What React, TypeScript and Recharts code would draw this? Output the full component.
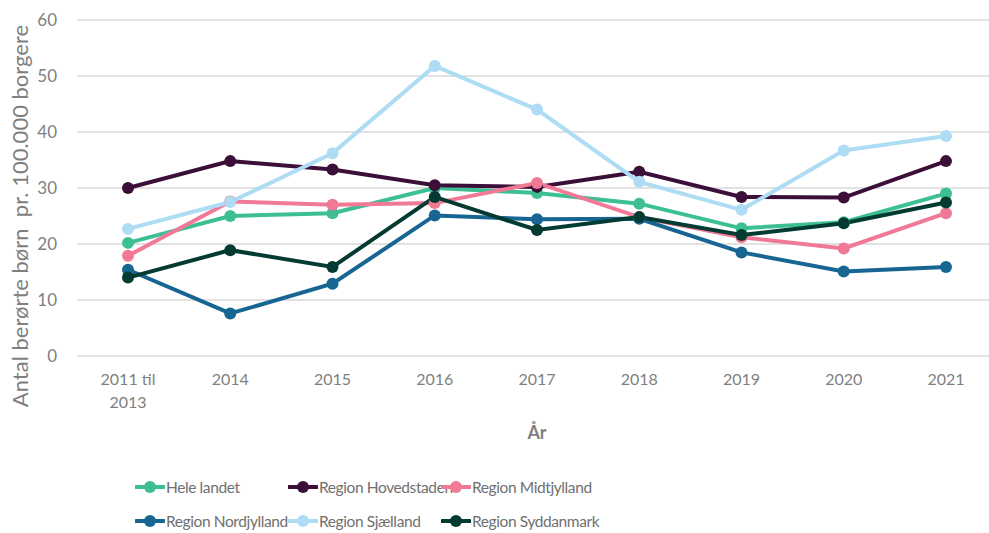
import React from "react";
import { LineChart, Line, XAxis, YAxis, CartesianGrid, Legend } from "recharts";

const YEARS = ["2011 til 2013", "2014", "2015", "2016", "2017", "2018", "2019", "2020", "2021"];

const heleLandet = [20.2, 25.0, 25.5, 30.0, 29.1, 27.2, 22.8, 23.9, 29.0];
const hovedstaden = [30.0, 34.8, 33.3, 30.5, 30.2, 32.9, 28.4, 28.3, 34.8];
const midtjylland = [17.9, 27.6, 27.0, 27.3, 30.9, 24.8, 21.2, 19.2, 25.5];
const nordjylland = [15.4, 7.6, 12.9, 25.1, 24.4, 24.5, 18.5, 15.1, 15.9];
const sjaelland = [22.7, 27.5, 36.2, 51.8, 44.0, 31.1, 26.1, 36.7, 39.3];
const syddanmark = [14.0, 18.9, 15.9, 28.4, 22.5, 24.8, 21.6, 23.7, 27.4];

const Y_TICKS = [0, 10, 20, 30, 40, 50, 60];

const SERIES = [
  { key: "hele", name: "Hele landet", color: "#3dbf94", values: heleLandet },
  { key: "hoved", name: "Region Hovedstaden", color: "#3b0f38", values: hovedstaden },
  { key: "midt", name: "Region Midtjylland", color: "#f07a95", values: midtjylland },
  { key: "nord", name: "Region Nordjylland", color: "#176592", values: nordjylland },
  { key: "sjael", name: "Region Sjælland", color: "#aedcf5", values: sjaelland },
  { key: "syd", name: "Region Syddanmark", color: "#033b32", values: syddanmark },
];

const data = YEARS.map((year, i) => {
  const row: Record<string, string | number> = { year };
  SERIES.forEach((s) => (row[s.key] = s.values[i]));
  return row;
});

const FONT = "Lato, 'Open Sans', sans-serif";
const GREY = "#7f7f7f";

function XTick(props: any) {
  const { x, y, payload } = props;
  const parts = payload.value === "2011 til 2013" ? ["2011 til", "2013"] : [payload.value];
  return (
    <text x={x} y={y} textAnchor="middle" fill={GREY} fontSize={16} fontFamily={FONT}>
      {parts.map((p: string, i: number) => (
        <tspan key={i} x={x} dy={i === 0 ? 21 : 23}>
          {p}
        </tspan>
      ))}
    </text>
  );
}

function LegendContent() {
  return (
    <div
      style={{
        display: "grid",
        gridTemplateColumns: "153px 153px 153px",
        gridAutoRows: "34px",
        paddingLeft: 135,
        fontFamily: FONT,
        fontSize: 15.5,
        letterSpacing: -0.4,
        color: "#707070",
      }}
    >
      {SERIES.map((s) => (
        <div key={s.key} style={{ display: "flex", alignItems: "center", whiteSpace: "nowrap" }}>
          <svg width={30} height={14} style={{ flex: "none" }}>
            <line x1={1} y1={7} x2={29} y2={7} stroke={s.color} strokeWidth={4} strokeLinecap="round" />
            <circle cx={15} cy={7} r={6} fill={s.color} />
          </svg>
          <span style={{ marginLeft: 1 }}>{s.name}</span>
        </div>
      ))}
    </div>
  );
}

export default function App() {
  return (
    <div style={{ position: "absolute", left: 0, top: 0, width: 989, height: 533, overflow: "hidden", background: "#fff" }}>
      <LineChart width={1000} height={533} data={data} margin={{ top: 20, right: 3, left: 0, bottom: 0 }}>
        <CartesianGrid vertical={false} stroke="#d9d9d9" strokeWidth={1.5} />
        <XAxis
          dataKey="year"
          axisLine={false}
          tickLine={false}
          interval={0}
          padding={{ left: 51, right: 51 }}
          height={114}
          tick={<XTick />}
          label={{ value: "År", position: "insideBottom", offset: 31, fill: GREY, fontSize: 18, fontWeight: 700, fontFamily: FONT }}
        />
        <YAxis
          domain={[0, 60]}
          ticks={Y_TICKS}
          width={77}
          axisLine={false}
          tickLine={false}
          tickSize={0}
          tickMargin={20}
          tick={{ fill: GREY, fontSize: 17, fontFamily: FONT }}
          label={{
            value: "Antal berørte børn\u00a0 pr. 100.000 borgere",
            angle: -90,
            position: "insideLeft",
            offset: 20,
            dy: 28,
            fill: GREY,
            fontSize: 22,
            fontFamily: FONT,
            style: { textAnchor: "middle" },
          }}
        />
        <Legend verticalAlign="bottom" align="left" height={63} content={<LegendContent />} />
        {SERIES.map((s) => (
          <Line
            key={s.key}
            dataKey={s.key}
            name={s.name}
            stroke={s.color}
            strokeWidth={4}
            dot={{ r: 6, fill: s.color, stroke: s.color, strokeWidth: 0 }}
            isAnimationActive={false}
          />
        ))}
      </LineChart>
    </div>
  );
}
